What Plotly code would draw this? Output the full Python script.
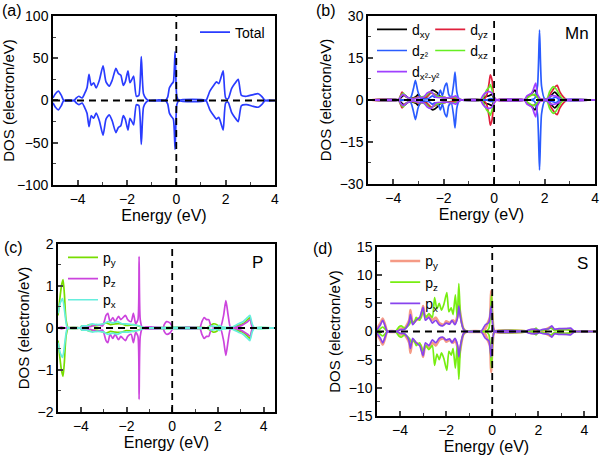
import plotly.graph_objects as go

# ---------------- data (spin-up; spin-down mirrors it) ----------------
E_total = [-5.0, -4.9, -4.78, -4.66, -4.56, -4.15, -4.05, -3.95, -3.82, -3.72, -3.62, -3.54, -3.45, -3.35, -3.25,
           -3.12, -2.97, -2.85, -2.72, -2.6, -2.45, -2.35, -2.25, -2.15, -2.07, -1.96, -1.88, -1.8, -1.73,
           -1.62, -1.52, -1.42, -1.33, -1.22, -1.1, -0.45, -0.35, -0.28, -0.2, -0.12, -0.05, 0.02, 0.1,
           1.2, 1.28, 1.36, 1.52, 1.63, 1.72, 1.82, 1.9, 2.0, 2.1, 2.24, 2.37, 2.51, 2.64, 2.85, 3.12,
           3.32, 3.46, 3.6, 4.0]
DOS_total = [3, 8, 11, 6, 0, 0, 3, 5, 3, 8, 15, 31, 18, 21, 15,
             24, 41, 22, 17, 24, 38, 32, 30, 18, 22, 35, 21, 25, 29,
             5, 6, 52, 8, 2, 0, 0, 4, 15, 19, 22, 58, 5, 0,
             0, 5, 11, 18, 22, 20, 28, 35, 3, 2, 14, 20, 25, 6, 5, 7,
             8, 5, 0, 0]

E_dxy = [-5, -3.8, -3.65, -3.55, -3.45, -3.3, -3.1, -3.0, -2.9, -2.7, -2.55, -2.45, -2.35, -2.25, -2.1,
         -1.9, -1.6, -1.5, -1.4, -0.5, -0.35, -0.2, -0.1, 0.0, 0.1, 1.2, 1.35, 1.5, 1.62, 1.72, 1.85,
         2.1, 2.25, 2.4, 2.5, 2.6, 2.8, 4]
DOS_dxy = [0, 0, 1.2, 1.8, 1.0, 0.6, 1.2, 2.0, 0.8, 0.8, 2.5, 3.5, 3.2, 2.5, 1.0,
           0.8, 0.5, 0.6, 0.2, 0, 1.2, 1.5, 2.0, 0.5, 0, 0, 1.2, 2.5, 3.5, 1.5, 0.2,
           0.3, 1.5, 2.8, 2.0, 0.8, 0, 0]
E_dyz = [-5, -3.8, -3.65, -3.55, -3.3, -3.0, -2.7, -2.5, -2.35, -2.1, -1.9, -1.5, -1.3, -0.45, -0.3,
         -0.2, -0.15, -0.08, 0.0, 0.1, 1.2, 1.35, 1.5, 1.65, 1.8, 2.1, 2.25, 2.4, 2.5, 2.6, 2.75, 2.9, 4]
DOS_dyz = [0, 0, 2.8, 1.5, 0.5, 1.0, 1.0, 2.5, 2.0, 1.0, 0.8, 0.5, 0, 0, 1.5,
           6, 9, 7, 1, 0, 0, 1.5, 2.0, 1.5, 0.3, 0.3, 2.5, 4.5, 5.2, 3, 1.0, 0, 0]
E_dz2 = [-5, -3.5, -3.3, -3.2, -3.12, -3.02, -2.9, -2.6, -2.45, -2.35, -2.2, -2.13, -2.05, -1.95, -1.88,
         -1.8, -1.7, -1.6, -1.55, -1.48, -1.4, -1.3, -0.3, -0.15, 0.0, 0.1, 1.4, 1.6, 1.72, 1.8, 1.88,
         2.0, 2.3, 2.45, 2.6, 4]
DOS_dz2 = [0, 0, 1, 4, 7, 3, 0.5, 0.5, 1.5, 1.0, 2, 3.5, 1.5, 5, 6,
           2, 1, 6, 10, 3, 0.5, 0, 0, 0.5, 0.3, 0, 0, 0.5, 5, 25, 5,
           0.5, 0.5, 1, 0, 0]
E_dxz = [-5, -3.8, -3.7, -3.6, -3.5, -3.3, -3.0, -2.7, -2.55, -2.45, -2.3, -2.1, -1.9, -1.6, -1.5,
         -1.3, -0.5, -0.4, -0.3, -0.2, -0.15, -0.08, 0.0, 0.1, 1.2, 1.35, 1.5, 1.6, 1.7, 1.85,
         2.1, 2.2, 2.35, 2.45, 2.55, 2.7, 2.85, 4]
DOS_dxz = [0, 0, 1.5, 2.5, 1.2, 0.5, 0.8, 1.5, 2.8, 2.5, 1.5, 1.0, 0.8, 1.0, 0.8,
           0, 0, 1.5, 3.5, 4.5, 5.5, 3.5, 0.5, 0, 0, 1.0, 1.8, 2.0, 1.0, 0,
           0.5, 3.0, 4.8, 4.0, 2.5, 0.5, 0, 0]
E_dx2y2 = [-5, -3.8, -3.7, -3.6, -3.45, -3.2, -3.0, -2.8, -2.65, -2.5, -2.4, -2.3, -2.1, -1.85, -1.6,
           -1.52, -1.45, -1.3, -0.55, -0.45, -0.35, -0.2, -0.08, 0.0, 0.1, 1.2, 1.3, 1.4, 1.5, 1.6,
           1.65, 1.72, 1.85, 2.1, 2.25, 2.4, 2.55, 2.7, 4]
DOS_dx2y2 = [0, 0, 1.2, 2.0, 1.0, 0.3, 0.8, 1.0, 2.5, 3.0, 2.0, 1.0, 0.8, 0.8, 1.2,
             1.5, 0.8, 0, 0, 1.5, 2.5, 3.0, 2.5, 1, 0, 0, 1.5, 2.0, 2.5, 5.0,
             6.0, 2.0, 0.3, 0.3, 1.5, 1.5, 1.0, 0, 0]

E_Ppy = [-5, -4.92, -4.85, -4.78, -4.72, -4.65, -4.55, -4.05, -3.95, -3.85, -3.6, -3.4, -3.1, -2.9, -2.7,
         -2.5, -2.2, -2.0, -1.7, -1.5, -1.3, -1.2, 1.5, 1.65, 1.8, 1.95, 2.1, 2.5, 2.8, 3.1, 3.3, 3.4,
         3.5, 3.6, 4.5]
DOS_Ppy = [0.3, 0.7, 1.0, 1.15, 0.8, 0.2, 0, 0, 0.05, 0.03, 0.08, 0.05, 0.08, 0.12, 0.08,
           0.1, 0.1, 0.06, 0.08, 0.05, 0.02, 0, 0, 0.05, 0.1, 0.08, 0, 0, 0.05, 0.1, 0.2, 0.25,
           0.05, 0, 0]
E_Ppz = [-5, -4.85, -4.7, -4.0, -3.9, -3.6, -3.3, -3.05, -2.9, -2.82, -2.72, -2.6, -2.5, -2.35, -2.25,
         -2.05, -1.95, -1.8, -1.7, -1.6, -1.5, -1.45, -1.4, -1.3, -0.4, -0.35, -0.25, -0.1, 0.0, 0.05,
         1.2, 1.3, 1.4, 1.5, 1.6, 1.7, 1.85, 2.1, 2.25, 2.35, 2.45, 2.55, 2.7, 3.0, 3.3, 3.42, 3.5,
         3.6, 4.5]
DOS_Ppz = [0, 0.02, 0, 0, 0.04, 0.03, 0.08, 0.05, 0.3, 0.35, 0.15, 0.25, 0.15, 0.28, 0.2,
           0.3, 0.2, 0.15, 0.35, 0.1, 0.2, 1.7, 0.2, 0, 0, 0.08, 0.15, 0.12, 0.04, 0,
           0, 0.15, 0.25, 0.2, 0.2, 0.05, 0.02, 0, 0.3, 0.65, 0.3, 0.02, 0.01, 0.05, 0.15, 0.2, 0.02,
           0, 0]
E_Ppx = [-5, -4.9, -4.8, -4.7, -4.62, -4.55, -4.05, -3.95, -3.75, -3.5, -3.3, -3.0, -2.8, -2.6, -2.4,
         -2.2, -2.0, -1.75, -1.5, -1.3, -1.2, 1.5, 1.75, 1.95, 2.05, 2.2, 2.6, 2.9, 3.1, 3.3, 3.4,
         3.5, 3.6, 4.5]
DOS_Ppx = [0.35, 0.6, 0.7, 0.35, 0.05, 0, 0, 0.05, 0.05, 0.1, 0.08, 0.1, 0.15, 0.12, 0.15,
           0.1, 0.1, 0.08, 0.06, 0.02, 0, 0, 0.05, 0.03, 0.06, 0.02, 0.02, 0.1, 0.15, 0.25, 0.3,
           0.1, 0, 0]

E_Spy = [-5, -4.85, -4.75, -4.65, -4.55, -4.15, -4.0, -3.8, -3.6, -3.55, -3.45, -3.3, -3.1, -3.0, -2.9,
         -2.75, -2.6, -2.45, -2.3, -2.1, -2.0, -1.85, -1.7, -1.6, -1.5, -1.45, -1.38, -1.25, -1.1,
         -0.4, -0.3, -0.2, -0.1, -0.05, 0.02, 0.1, 1.5, 1.7, 1.95, 2.1, 2.3, 2.55, 2.7, 3.0, 3.3, 3.5,
         3.6, 4.5]
DOS_Spy = [0.5, 1.5, 2.3, 1.2, 0, 0, 0.5, 0.6, 2.0, 3.8, 1.5, 2.0, 2.5, 4.5, 2.5,
           2.8, 2.0, 2.5, 1.5, 1.2, 1.8, 1.5, 2.0, 1.5, 3.0, 5.0, 3.0, 0.5, 0,
           0, 0.5, 1.5, 2.5, 7.2, 2.0, 0, 0, 0.3, 0.2, 0, 0.3, 0.8, 0.3, 0.4, 0.4, 0.1,
           0, 0]
E_Spz = [-5, -4.85, -4.75, -4.6, -4.5, -4.2, -4.05, -3.95, -3.8, -3.6, -3.5, -3.4, -3.3, -3.15, -3.0,
         -2.88, -2.75, -2.6, -2.5, -2.4, -2.3, -2.2, -2.1, -1.97, -1.88, -1.78, -1.7, -1.6, -1.52,
         -1.45, -1.38, -1.28, -1.15, -0.3, -0.15, -0.08, -0.03, 0.03, 0.1, 1.7, 1.9, 2.0, 2.3, 2.55,
         2.7, 3.0, 3.3, 3.5, 4.5]
DOS_Spz = [0, 0.5, 0.8, 0.2, 0, 0, 0.8, 1.0, 0.6, 1.2, 2.0, 1.5, 2.5, 2.0, 3.5,
           2.5, 3.2, 2.5, 6.0, 4.0, 5.0, 3.8, 4.8, 6.9, 3.5, 4.2, 3.0, 6.5, 2.5,
           8.5, 3.0, 0.8, 0, 0, 0.5, 3.0, 6.5, 1.0, 0, 0, 0.6, 0.1, 0.3, 0.6,
           0.2, 0.3, 0.3, 0, 0]
E_Spx = [-5, -4.85, -4.75, -4.65, -4.55, -4.15, -4.0, -3.8, -3.62, -3.55, -3.45, -3.3, -3.15, -3.0, -2.9,
         -2.75, -2.6, -2.45, -2.3, -2.15, -2.0, -1.85, -1.75, -1.62, -1.5, -1.45, -1.38, -1.25, -1.1,
         -0.5, -0.4, -0.3, -0.15, -0.05, 0.03, 0.1, 1.4, 1.6, 1.9, 2.05, 2.2, 2.45, 2.58, 2.7, 2.9,
         3.2, 3.4, 3.55, 3.65, 4.5]
DOS_Spx = [0.3, 1.2, 2.0, 1.0, 0, 0, 0.3, 0.4, 1.5, 3.0, 1.2, 2.0, 2.5, 4.3, 2.0,
           2.5, 1.5, 2.0, 1.2, 1.0, 1.5, 1.3, 2.0, 1.2, 2.5, 4.5, 2.5, 0.4, 0,
           0, 0.5, 1.2, 1.6, 4.5, 1.0, 0, 0, 0.3, 0.4, 0.2, 0.4, 0.5, 1.0, 0.4, 0.5,
           0.5, 0.6, 0.1, 0, 0]

# ---------------- figure ----------------
FONT = "Arial, Liberation Sans, sans-serif"
fig = go.Figure()

panels = [
    # name, x-axis id, y-axis id, xdomain, ydomain, xrange, yrange, ydtick, yminor
    ("a", "x", "y", [0.0883, 0.4583], [0.5952, 0.965], [-5, 4], [-100, 100], 50, 25),
    ("b", "x2", "y2", [0.6133, 0.9917], [0.5974, 0.965], [-5, 4], [-30, 30], 15, 7.5),
    ("c", "x3", "y3", [0.0967, 0.4583], [0.0985, 0.4661], [-5, 4.5], [-2, 2], 1, 0.5),
    ("d", "x4", "y4", [0.6283, 0.9933], [0.0897, 0.4595], [-5, 4.5], [-15, 15], 5, 2.5),
]

series = {
    "a": [(E_total, DOS_total, "Total", "#2a3cff", "legend")],
    "b": [(E_dxy, DOS_dxy, "d<sub>xy</sub>", "#000000", "legend2"),
          (E_dyz, DOS_dyz, "d<sub>yz</sub>", "#e0203c", "legend3"),
          (E_dz2, DOS_dz2, "d<sub>z²</sub>", "#2a5cff", "legend2"),
          (E_dxz, DOS_dxz, "d<sub>xz</sub>", "#66ee22", "legend3"),
          (E_dx2y2, DOS_dx2y2, "d<sub>x²-y²</sub>", "#a040ff", "legend2")],
    "c": [(E_Ppy, DOS_Ppy, "p<sub>y</sub>", "#77dd00", "legend4"),
          (E_Ppz, DOS_Ppz, "p<sub>z</sub>", "#cc44dd", "legend4"),
          (E_Ppx, DOS_Ppx, "p<sub>x</sub>", "#66eedd", "legend4")],
    "d": [(E_Spy, DOS_Spy, "p<sub>y</sub>", "#f59a85", "legend5"),
          (E_Spz, DOS_Spz, "p<sub>z</sub>", "#77ee11", "legend5"),
          (E_Spx, DOS_Spx, "p<sub>x</sub>", "#8844ee", "legend5")],
}

for name, xa, ya, xd, yd, xr, yr, ydt, ymin in panels:
    for (E, D, label, color, leg) in series[name]:
        w = 2.6 if color == "#f59a85" else 1.7
        fig.add_trace(go.Scatter(x=E, y=D, mode="lines", name=label, legend=leg,
                                 line=dict(color=color, width=w, shape="spline", smoothing=0.6),
                                 xaxis=xa, yaxis=ya, showlegend=True))
        fig.add_trace(go.Scatter(x=E, y=[-v for v in D], mode="lines", name=label, legend=leg,
                                 line=dict(color=color, width=w, shape="spline", smoothing=0.6),
                                 xaxis=xa, yaxis=ya, showlegend=False))
    xkey = "xaxis" + xa[1:]
    ykey = "yaxis" + ya[1:]
    fig.layout[xkey] = dict(domain=xd, range=xr, anchor=ya, tickmode="array", tickvals=[-4, -2, 0, 2, 4],
                            ticks="inside", ticklen=5, tickwidth=1.5, showline=True, mirror=True,
                            linecolor="black", linewidth=1.5, showgrid=False, zeroline=False,
                            automargin=False,
                            minor=dict(dtick=1, tick0=-5, ticks="inside", ticklen=3, tickwidth=1.2),
                            tickfont=dict(size=14, family=FONT, color="black"),
                            title=dict(text="Energy (eV)", font=dict(size=16, family=FONT, color="black"),
                                       standoff=2))
    fig.layout[ykey] = dict(domain=yd, range=yr, anchor=xa, dtick=ydt, tick0=0,
                            ticks="inside", ticklen=5, tickwidth=1.5, showline=True, mirror=True,
                            linecolor="black", linewidth=1.5, showgrid=False, zeroline=False,
                            automargin=False,
                            minor=dict(dtick=ymin, ticks="inside", ticklen=3, tickwidth=1.2),
                            tickfont=dict(size=14, family=FONT, color="black"),
                            title=dict(text="DOS (electron/eV)", font=dict(size=15, family=FONT, color="black"),
                                       standoff=4))
    fig.add_shape(type="line", xref=xa, yref=ya + " domain", x0=0, x1=0, y0=0, y1=1,
                  line=dict(color="black", width=1.8, dash="7px,5px"), layer="above")
    fig.add_shape(type="line", xref=xa + " domain", yref=ya, x0=0, x1=1, y0=0, y1=0,
                  line=dict(color="black", width=1.8, dash="7px,5px"), layer="above")

legfont = dict(size=14, family=FONT, color="black")
common = dict(bgcolor="rgba(0,0,0,0)", borderwidth=0, xanchor="left", yanchor="top",
              tracegroupgap=0, font=legfont, itemwidth=30)
fig.update_layout(
    legend=dict(x=0.325, y=0.964, **common),
    legend2=dict(x=0.62, y=0.97, **common),
    legend3=dict(x=0.717, y=0.97, **common),
    legend4=dict(x=0.105, y=0.471, **common),
    legend5=dict(x=0.642, y=0.463, **common),
)

ann_font = dict(size=16, family=FONT, color="black")
for txt, x, y in [("(a)", 12, 11), ("(b)", 326, 11), ("(c)", 13, 247), ("(d)", 323, 248)]:
    fig.add_annotation(text=txt, x=x / 600, y=1 - y / 457, xref="paper", yref="paper",
                       showarrow=False, font=ann_font, xanchor="center", yanchor="middle")
for txt, x, y in [("Mn", 577, 33), ("P", 257, 262), ("S", 582, 263)]:
    fig.add_annotation(text=txt, x=x / 600, y=1 - y / 457, xref="paper", yref="paper",
                       showarrow=False, font=dict(size=17, family=FONT, color="black"),
                       xanchor="center", yanchor="middle")

fig.update_layout(template="none", width=600, height=457, margin=dict(l=0, r=0, t=0, b=0, autoexpand=False),
                  paper_bgcolor="white", plot_bgcolor="white", font=dict(family=FONT))
fig.write_html("out.html", config={"displayModeBar": False},
               post_script="document.body.style.margin='0px';")
